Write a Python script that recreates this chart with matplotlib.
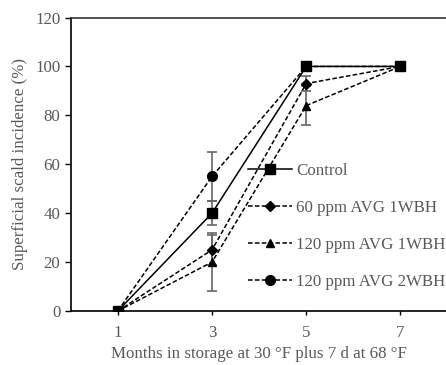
import matplotlib.pyplot as plt

months = [1, 3, 5, 7]
control = [0, 40, 100, 100]
control_err = [0, 5, 0, 0]
avg60_1 = [0, 25, 93, 100]
avg60_1_err = [0, 6, 3, 0]
avg120_1 = [0, 20, 84, 100]
avg120_1_err = [0, 12, 8, 0]
avg120_2 = [0, 55, 100, 100]
avg120_2_err = [0, 10, 0, 0]
labels = ['Control', '60 ppm AVG 1WBH', '120 ppm AVG 1WBH', '120 ppm AVG 2WBH']

plt.rcParams['font.family'] = ['Liberation Serif', 'DejaVu Serif']
plt.rcParams['font.size'] = 12.2
grey = '#595959'

fig = plt.figure(figsize=(4.46, 3.65), dpi=100)
ax = fig.add_axes([0.1585, 0.148, 0.845, 0.804])

series = [
    (control, control_err, '-', 's', 6.5),
    (avg60_1, avg60_1_err, '--', 'D', 5.2),
    (avg120_1, avg120_1_err, '--', '^', 6),
    (avg120_2, avg120_2_err, '--', 'o', 7),
]
for (vals, err, ls, mk, ms), lab in zip(series, labels):
    ax.errorbar(months, vals, yerr=err, fmt='none', ecolor='#666666',
                elinewidth=1.2, capsize=3.5, capthick=1.2, zorder=1)
    ax.plot(months, vals, linestyle=ls, color='black', marker=mk,
            markersize=ms, linewidth=1.1, label=lab, zorder=2,
            dashes=(3, 1.5) if ls == '--' else (None, None))

ax.set_xlim(0, 8)
ax.set_ylim(0, 120)
ax.set_xticks(months)
ax.set_yticks(range(0, 121, 20))
ax.tick_params(axis='both', colors='black', labelcolor=grey, length=4, width=1)
ax.tick_params(axis='x', length=3, pad=7)
for s in ['left', 'bottom', 'top', 'right']:
    ax.spines[s].set_linewidth(1.2)
ax.spines['top'].set_color('#333333')

ax.set_xlabel('Months in storage at 30 °F plus 7 d at 68 °F', color=grey, labelpad=4)
ax.set_ylabel('Superficial scald incidence (%)', color=grey, labelpad=5)

leg = ax.legend(loc='center left', bbox_to_anchor=(0.47, 0.288), frameon=False,
                labelspacing=1.24, handlelength=2.6, handletextpad=0.25,
                borderaxespad=0, borderpad=0, labelcolor=grey)

fig.savefig('out.png', dpi=100)
